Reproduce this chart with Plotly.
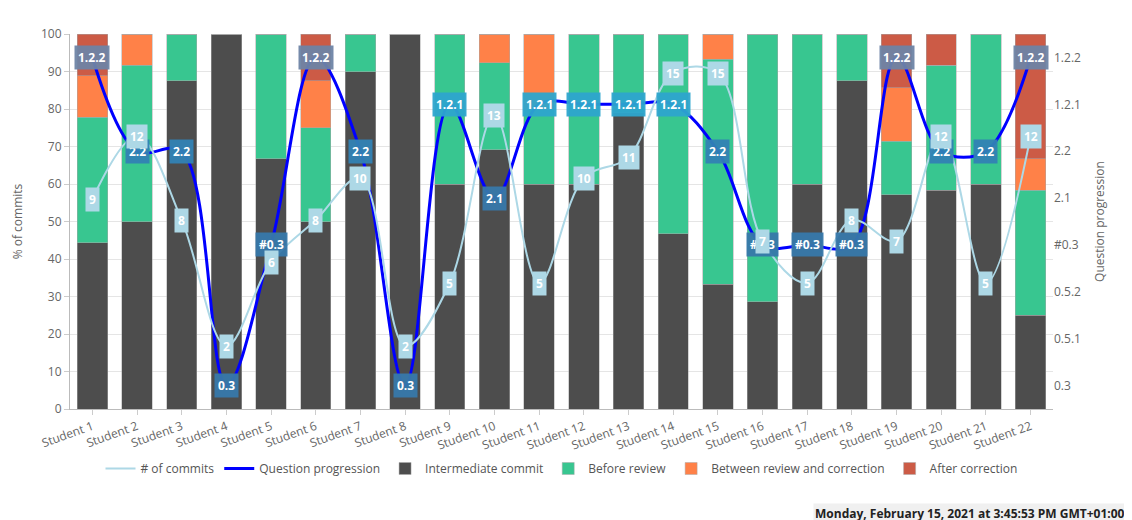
import plotly.graph_objects as go

students = ["Student %d" % i for i in range(1, 23)]
intermediate = [44.4, 50, 87.5, 100, 66.7, 50, 90, 100, 60, 69.2, 60, 60, 79, 46.7, 33.3, 28.6, 60, 87.5, 57.1, 58.3, 60, 25]
before_review = [33.4, 41.7, 12.5, 0, 33.3, 25, 10, 0, 40, 23.1, 20, 40, 21, 53.3, 60, 71.4, 40, 12.5, 14.3, 33.4, 40, 33.3]
between = [11.1, 8.3, 0, 0, 0, 12.5, 0, 0, 0, 7.7, 20, 0, 0, 0, 6.7, 0, 0, 0, 14.3, 0, 0, 8.4]
after = [11.1, 0, 0, 0, 0, 12.5, 0, 0, 0, 0, 0, 0, 0, 0, 0, 0, 0, 0, 14.3, 8.3, 0, 33.3]
commits = [9, 12, 8, 2, 6, 8, 10, 2, 5, 13, 5, 10, 11, 15, 15, 7, 5, 8, 7, 12, 5, 12]
progression = ["1.2.2", "2.2", "2.2", "0.3", "#0.3", "1.2.2", "2.2", "0.3", "1.2.1", "2.1", "1.2.1", "1.2.1",
               "1.2.1", "1.2.1", "2.2", "#0.3", "#0.3", "#0.3", "1.2.2", "2.2", "2.2", "1.2.2"]
levels = ["0.3", "0.5.1", "0.5.2", "#0.3", "2.1", "2.2", "1.2.1", "1.2.2"]
label_colors = {"1.2.2": "rgba(110,132,165,0.95)", "1.2.1": "rgba(45,165,205,0.95)",
                "2.2": "rgba(50,130,180,0.95)", "2.1": "rgba(55,120,170,0.95)",
                "#0.3": "rgba(55,120,170,0.95)", "0.3": "rgba(55,120,170,0.95)"}

prog_idx = [levels.index(p) for p in progression]

fig = go.Figure()
for name, vals, col in [("Intermediate commit", intermediate, "#4d4d4d"),
                        ("Before review", before_review, "#38c690"),
                        ("Between review and correction", between, "#ff8148"),
                        ("After correction", after, "#cc5b46")]:
    fig.add_trace(go.Bar(x=students, y=vals, name=name, marker=dict(color=col, line=dict(width=0.5, color="#aaaaaa")),
                         legendrank=10 + len(fig.data)))

fig.add_trace(go.Scatter(x=students, y=prog_idx, name="Question progression", yaxis="y2", mode="lines",
                         line=dict(color="#0000ff", width=3, shape="spline"), legendrank=2))
fig.add_trace(go.Scatter(x=students, y=commits, name="# of commits", yaxis="y3", mode="lines",
                         line=dict(color="#add8e6", width=2, shape="spline"), legendrank=1))

for s, p, i in zip(students, progression, prog_idx):
    fig.add_annotation(x=s, y=i, yref="y2", text="<b>%s</b>" % p, showarrow=False, bgcolor=label_colors[p],
                       font=dict(color="white", size=12), borderpad=3)
for s, c in zip(students, commits):
    fig.add_annotation(x=s, y=c, yref="y3", text="<b>%d</b>" % c, showarrow=False, bgcolor="#add8e6",
                       font=dict(color="white", size=12), borderpad=3)

fig.add_annotation(xref="paper", yref="paper", x=1.075, y=-0.25, xanchor="right", yanchor="top", showarrow=False,
                   text="<b>Monday, February 15, 2021 at 3:45:53 PM GMT+01:00</b>", bgcolor="#f0f0f0",
                   font=dict(size=12, color="#222"))

fig.update_layout(
    width=1132, height=520, barmode="stack", bargap=0.32,
    margin=dict(l=62, r=87, t=26, b=119),
    plot_bgcolor="white", paper_bgcolor="white",
    font=dict(family="Open Sans, Arial", size=12, color="#666"),
    xaxis=dict(tickangle=-20, showgrid=True, gridcolor="#e5e5e5", linecolor="#bbb", ticks="outside",
               tickcolor="#ccc", automargin=False),
    yaxis=dict(title="% of commits", range=[0, 100], dtick=10, gridcolor="#e5e5e5", linecolor="#bbb",
               ticks="outside", tickcolor="#ccc", title_font=dict(size=12), automargin=False),
    yaxis2=dict(title="Question progression", overlaying="y", side="right", range=[-0.5, 7.5],
                tickvals=list(range(len(levels))), ticktext=levels, showgrid=False, title_font=dict(size=12),
                automargin=False),
    yaxis3=dict(overlaying="y", range=[-1, 16.86], visible=False),
    legend=dict(orientation="h", x=0.5, xanchor="center", y=-0.12, yanchor="top", traceorder="normal",
                font=dict(size=12, color="#555")),
)
fig.write_html("out.html")
